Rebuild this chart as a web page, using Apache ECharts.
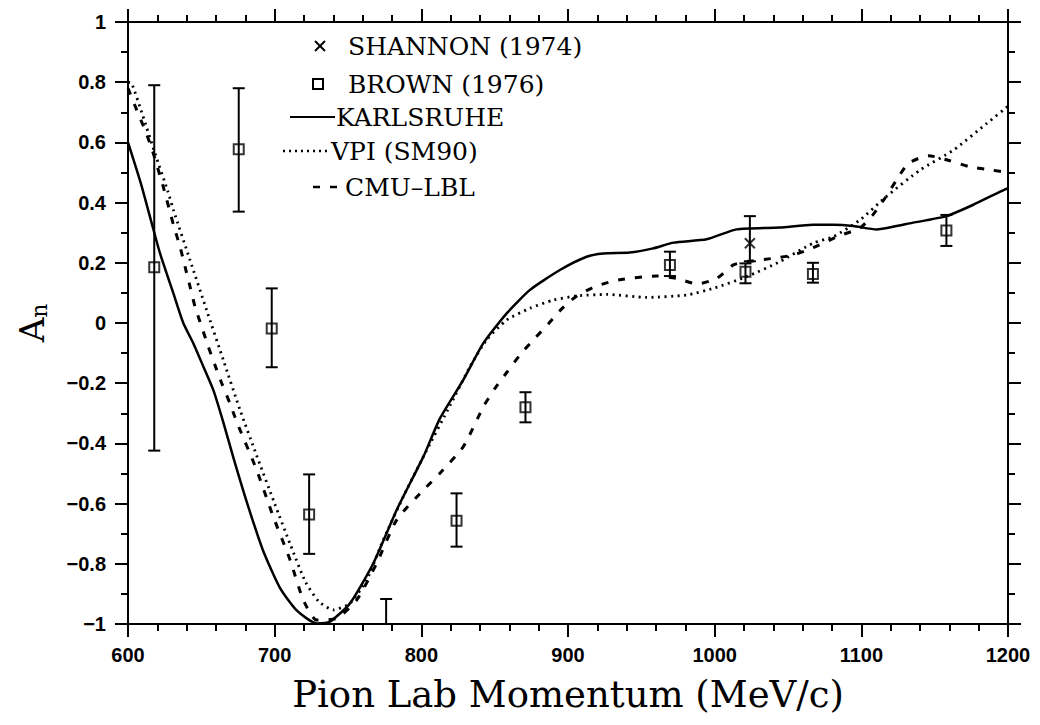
<!DOCTYPE html>
<html>
<head>
<meta charset="utf-8">
<script src="https://cdn.jsdelivr.net/npm/echarts@6/dist/echarts.min.js"></script>
<style>html,body{margin:0;padding:0;background:#fff}#c{width:1040px;height:725px}</style>
</head>
<body>
<div id="c"></div>
<script>
// ---- data ----
const xTicks = [600, 700, 800, 900, 1000, 1100, 1200];
const yTicks = [-1, -0.8, -0.6, -0.4, -0.2, 0, 0.2, 0.4, 0.6, 0.8, 1];

const karlsruheX = [600, 609, 616.2, 621.8, 630.9, 637.7, 644.5, 651.4, 658.2, 665, 672, 681, 692, 703.6, 715, 728.6, 737.7, 751.4, 767.3, 783.2, 801.4, 812.7, 828.6, 842.3, 858.2, 874.1, 894.5, 912.7, 924, 942, 958, 972, 994.5, 1015, 1044.5, 1067, 1081, 1094.5, 1110.5, 1124, 1133, 1158, 1176, 1198, 1200];
const karlsruheY = [0.60, 0.46, 0.331, 0.232, 0.099, 0.0, -0.067, -0.145, -0.223, -0.33, -0.45, -0.595, -0.755, -0.88, -0.955, -0.998, -0.992, -0.931, -0.798, -0.621, -0.444, -0.317, -0.189, -0.067, 0.032, 0.11, 0.176, 0.22, 0.231, 0.234, 0.248, 0.267, 0.278, 0.311, 0.317, 0.326, 0.326, 0.322, 0.311, 0.322, 0.331, 0.355, 0.392, 0.444, 0.447];

const vpiX = [600, 602.5, 610, 618.4, 627, 631, 642.3, 653.6, 665, 676.4, 687.7, 700, 711, 721, 730, 740, 751.4, 762.7, 774, 787.7, 801.4, 820, 833.2, 844.5, 858.2, 874.1, 890, 906, 926.4, 953.6, 981, 999, 1021.8, 1044.5, 1067, 1081, 1099, 1117, 1140, 1163, 1185.5, 1200];
const vpiY = [0.80, 0.796, 0.69, 0.564, 0.44, 0.375, 0.209, 0.043, -0.123, -0.289, -0.44, -0.6, -0.74, -0.86, -0.925, -0.953, -0.931, -0.854, -0.721, -0.577, -0.444, -0.27, -0.145, -0.056, 0.01, 0.049, 0.076, 0.09, 0.095, 0.085, 0.093, 0.115, 0.154, 0.204, 0.265, 0.287, 0.342, 0.42, 0.508, 0.575, 0.663, 0.72];

const cmuX = [600, 605.9, 611.6, 616.2, 624, 631, 635.5, 638.9, 642.3, 645.7, 650.2, 654.8, 659.3, 663.9, 669.5, 674.1, 687.7, 699, 710.5, 719.5, 728.6, 742.3, 756, 769.6, 783.2, 801.4, 812.7, 828.6, 842.3, 850.2, 858.6, 867.3, 876.4, 886.6, 895.7, 906, 919.6, 934.3, 960.5, 974, 988, 1001.4, 1012.7, 1021.8, 1040, 1053.6, 1067, 1085, 1099, 1108, 1116, 1124, 1132, 1145.7, 1160.5, 1174, 1189, 1200];
const cmuY = [0.78, 0.708, 0.641, 0.58, 0.453, 0.326, 0.253, 0.187, 0.121, 0.054, -0.012, -0.079, -0.14, -0.2, -0.267, -0.328, -0.488, -0.643, -0.787, -0.92, -0.987, -0.981, -0.92, -0.798, -0.654, -0.555, -0.499, -0.411, -0.278, -0.217, -0.162, -0.106, -0.056, -0.003, 0.047, 0.09, 0.123, 0.143, 0.156, 0.148, 0.13, 0.148, 0.193, 0.204, 0.215, 0.226, 0.25, 0.29, 0.315, 0.36, 0.414, 0.475, 0.53, 0.556, 0.539, 0.519, 0.508, 0.50];

const brownX  = [617.9, 675.5, 698, 723.5, 776, 824, 871, 969.5, 1021, 1067, 1158];
const brownY  = [0.185, 0.577, -0.018, -0.636, -1.06, -0.657, -0.28, 0.193, 0.17, 0.163, 0.307];
const brownLo = [-0.424, 0.37, -0.147, -0.767, -1.19, -0.743, -0.33, 0.156, 0.132, 0.134, 0.256];
const brownHi = [0.79, 0.78, 0.115, -0.503, -0.917, -0.566, -0.23, 0.237, 0.198, 0.2, 0.359];

const shannonX  = [1024];
const shannonY  = [0.265];
const shannonLo = [0.205];
const shannonHi = [0.355];

const legendLabels = ['SHANNON (1974)', 'BROWN (1976)', 'KARLSRUHE', 'VPI (SM90)', 'CMU\u2013LBL'];

// ---- helpers ----
const zip = (a, b) => a.map((v, i) => [v, b[i]]);
const zip3 = (a, b, c) => a.map((v, i) => [v, b[i], c[i]]);

function errRender(params, api) {
  const x = api.value(0), lo = api.value(1), hi = api.value(2);
  const pH = api.coord([x, hi]), pL = api.coord([x, lo]);
  const w = 6;
  const st = { stroke: '#000', lineWidth: 2 };
  return {
    type: 'group',
    children: [
      { type: 'line', shape: { x1: pH[0], y1: pH[1], x2: pL[0], y2: pL[1] }, style: st },
      { type: 'line', shape: { x1: pH[0] - w, y1: pH[1], x2: pH[0] + w, y2: pH[1] }, style: st },
      { type: 'line', shape: { x1: pL[0] - w, y1: pL[1], x2: pL[0] + w, y2: pL[1] }, style: st }
    ]
  };
}

const fmtY = v => {
  const r = Math.round(v * 10) / 10;
  if (r === 0) return '0';
  return String(r).replace('-', '\u2212');
};
const fmtX = v => String(Math.round(v));

const axisCommonX = {
  type: 'value', min: xTicks[0], max: xTicks[xTicks.length - 1], interval: 100,
  splitLine: { show: false },
  axisLine: { show: true, onZero: false, lineStyle: { color: '#000', width: 2 } },
  axisTick: { show: true, inside: false, length: 13, lineStyle: { color: '#000', width: 2 } },
  minorTick: { show: true, splitNumber: 5, length: 7, lineStyle: { color: '#000', width: 2 } }
};
const axisCommonY = {
  type: 'value', min: yTicks[0], max: yTicks[yTicks.length - 1], interval: 0.2,
  splitLine: { show: false },
  axisLine: { show: true, onZero: false, lineStyle: { color: '#000', width: 2 } },
  axisTick: { show: true, inside: false, length: 13, lineStyle: { color: '#000', width: 2 } },
  minorTick: { show: true, splitNumber: 2, length: 7, lineStyle: { color: '#000', width: 2 } }
};

const tickFont = { color: '#000', fontFamily: 'Liberation Sans', fontWeight: 'bold', fontSize: 20 };
const serif = 'DejaVu Serif';

const chart = echarts.init(document.getElementById('c'), null, { renderer: 'svg' });

// legend graphics
const lgX = 348, rows = [46, 84, 117, 151, 187];
const lgFont = '25px "' + serif + '"';
const legendGraphics = [
  { type: 'group', children: [
    { type: 'line', shape: { x1: 315, y1: rows[0] - 5, x2: 325, y2: rows[0] + 5 }, style: { stroke: '#000', lineWidth: 2 } },
    { type: 'line', shape: { x1: 325, y1: rows[0] - 5, x2: 315, y2: rows[0] + 5 }, style: { stroke: '#000', lineWidth: 2 } },
    { type: 'rect', shape: { x: 313, y: rows[1] - 5, width: 10, height: 10 }, style: { fill: 'none', stroke: '#000', lineWidth: 2 } },
    { type: 'line', shape: { x1: 290, y1: rows[2], x2: 335, y2: rows[2] }, style: { stroke: '#000', lineWidth: 2 } },
    { type: 'line', shape: { x1: 283, y1: rows[3], x2: 330, y2: rows[3] }, style: { stroke: '#000', lineWidth: 2.5, lineDash: [2, 4] } },
    { type: 'line', shape: { x1: 313, y1: rows[4], x2: 343, y2: rows[4] }, style: { stroke: '#000', lineWidth: 2.5, lineDash: [7, 10] } },
    { type: 'text', style: { x: lgX, y: rows[0], text: legendLabels[0], font: lgFont, fill: '#000', textVerticalAlign: 'middle' } },
    { type: 'text', style: { x: lgX, y: rows[1], text: legendLabels[1], font: lgFont, fill: '#000', textVerticalAlign: 'middle' } },
    { type: 'text', style: { x: 336, y: rows[2], text: legendLabels[2], font: lgFont, fill: '#000', textVerticalAlign: 'middle' } },
    { type: 'text', style: { x: 331, y: rows[3], text: legendLabels[3], font: lgFont, fill: '#000', textVerticalAlign: 'middle' } },
    { type: 'text', style: { x: 345, y: rows[4], text: legendLabels[4], font: lgFont, fill: '#000', textVerticalAlign: 'middle' } }
  ]}
];

chart.setOption({
  animation: false,
  backgroundColor: '#fff',
  grid: { left: 128, right: 32, top: 22, bottom: 101, containLabel: false },
  xAxis: [
    Object.assign({}, axisCommonX, {
      position: 'bottom',
      axisLabel: Object.assign({ margin: 21, formatter: fmtX }, tickFont),
      name: 'Pion Lab Momentum (MeV/c)', nameLocation: 'middle', nameGap: 52,
      nameTextStyle: { fontFamily: serif, fontSize: 37, color: '#000' }
    }),
    Object.assign({}, axisCommonX, { position: 'top', axisLabel: { show: false } })
  ],
  yAxis: [
    Object.assign({}, axisCommonY, {
      position: 'left',
      axisLabel: Object.assign({ margin: 22, formatter: fmtY }, tickFont),
      name: '{a|A}{s|n}', nameLocation: 'middle', nameGap: 78, nameRotate: 90,
      nameTextStyle: { rich: {
        a: { fontFamily: serif, fontSize: 34, color: '#000' },
        s: { fontFamily: serif, fontSize: 22, color: '#000', padding: [14, 0, 0, 0] }
      } }
    }),
    Object.assign({}, axisCommonY, { position: 'right', axisLabel: { show: false } })
  ],
  graphic: legendGraphics,
  series: [
    { name: 'KARLSRUHE', type: 'line', data: zip(karlsruheX, karlsruheY), showSymbol: false, smooth: 0.2,
      lineStyle: { color: '#000', width: 2.5, type: 'solid' }, z: 3 },
    { name: 'VPI (SM90)', type: 'line', data: zip(vpiX, vpiY), showSymbol: false, smooth: 0.2,
      lineStyle: { color: '#000', width: 2.8, type: [2, 4.5] }, z: 3 },
    { name: 'CMU-LBL', type: 'line', data: zip(cmuX, cmuY), showSymbol: false, smooth: 0.2,
      lineStyle: { color: '#000', width: 3, type: [7, 10] }, z: 3 },
    { name: 'BROWN err', type: 'custom', data: zip3(brownX, brownLo, brownHi), renderItem: errRender, clip: true, z: 4 },
    { name: 'BROWN (1976)', type: 'scatter', data: zip(brownX, brownY), symbol: 'rect', symbolSize: [10, 10], clip: true,
      itemStyle: { color: 'none', borderColor: '#000', borderWidth: 2 }, z: 5 },
    { name: 'SHANNON err', type: 'custom', data: zip3(shannonX, shannonLo, shannonHi), renderItem: errRender, clip: true, z: 4 },
    { name: 'SHANNON (1974)', type: 'scatter', data: zip(shannonX, shannonY), symbol: 'path://M0,0L10,10M10,0L0,10', symbolSize: 10,
      itemStyle: { color: 'none', borderColor: '#000', borderWidth: 2 }, z: 5 }
  ]
});
</script>
</body>
</html>
